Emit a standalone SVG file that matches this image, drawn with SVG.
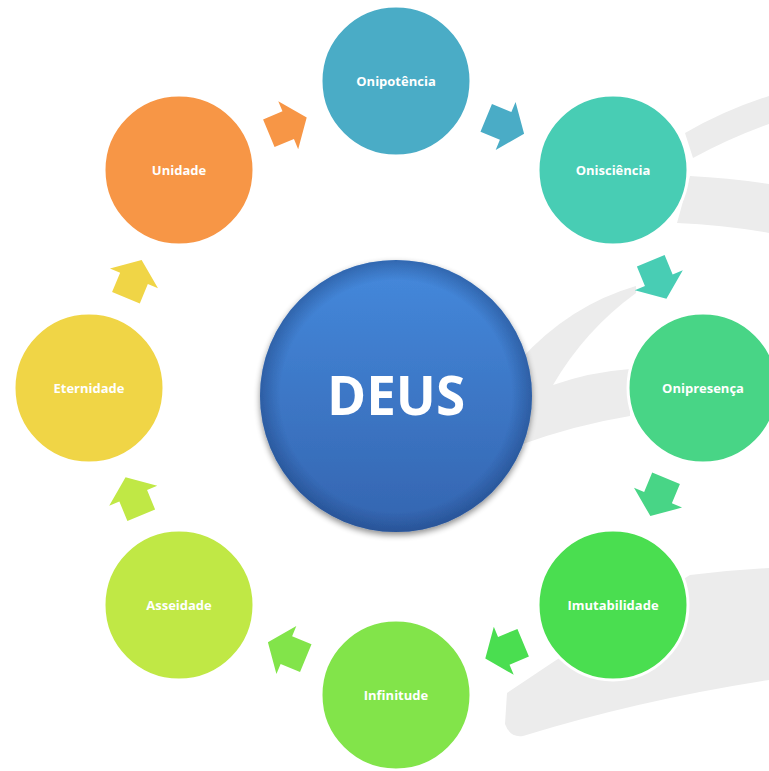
<svg xmlns="http://www.w3.org/2000/svg" width="769" height="771" viewBox="0 0 769 771">
<defs>
<style>
.lbl{font-family:"Open Sans","Noto Sans",sans-serif;font-weight:bold;font-size:13px;fill:#ffffff;text-anchor:middle}
.node{stroke:#ffffff;stroke-width:3}
.bg{fill:#ececec}
</style>
<linearGradient id="gDeus" x1="0" y1="0" x2="0" y2="1">
<stop offset="0" stop-color="#4589dc"/>
<stop offset="1" stop-color="#3465b0"/>
</linearGradient>
<radialGradient id="gRim" cx="0.5" cy="0.5" r="0.5">
<stop offset="0.85" stop-color="#1a3f7a" stop-opacity="0"/>
<stop offset="1" stop-color="#1a3f7a" stop-opacity="0.45"/>
</radialGradient>
<filter id="shadow" x="-20%" y="-20%" width="140%" height="140%">
<feGaussianBlur in="SourceAlpha" stdDeviation="3"/>
<feOffset dx="0" dy="3" result="b"/>
<feComponentTransfer><feFuncA type="linear" slope="0.45"/></feComponentTransfer>
<feMerge><feMergeNode/><feMergeNode in="SourceGraphic"/></feMerge>
</filter>
<path id="arr" d="M-20,-15 L1,-15 L1,-26 L21,0 L1,26 L1,15 L-20,15 Z"/>
</defs>
<rect width="769" height="771" fill="#ffffff"/>
<g id="background">
<path class="bg" d="M685,133 Q725,110 769,96 L769,124 Q730,138 693,158 Z"/>
<path class="bg" d="M690,176 Q730,178 769,184 L769,233 Q725,225 677,223 Z"/>
<path class="bg" d="M636,286 Q570,305 520,360 L520,445 Q575,425 630,416 L630,369 Q590,372 553,385 Q585,330 636,293 Z"/>
<path class="bg" d="M507,693 Q600,630 690,575 Q730,570 769,568 L769,680 Q640,700 523,736 Q510,738 505,724 Z"/>
</g>
<g id="connectors">
<use href="#arr" fill="#f79646" transform="translate(287.3,125.6) rotate(-22.5)"/>
<use href="#arr" fill="#4aacc6" transform="translate(504.7,125.6) rotate(22.5)"/>
<use href="#arr" fill="#48cdb4" transform="translate(658.4,279.3) rotate(67.5)"/>
<use href="#arr" fill="#48d586" transform="translate(658.4,496.7) rotate(112.5)"/>
<use href="#arr" fill="#4ade50" transform="translate(504.7,650.4) rotate(157.5)"/>
<use href="#arr" fill="#82e44a" transform="translate(287.3,650.4) rotate(202.5)"/>
<use href="#arr" fill="#c0e845" transform="translate(133.6,496.7) rotate(247.5)"/>
<use href="#arr" fill="#f0d546" transform="translate(133.6,279.3) rotate(292.5)"/>
</g>
<g id="deus" filter="url(#shadow)">
<circle cx="396" cy="396" r="136" fill="url(#gDeus)"/>
<circle cx="396" cy="396" r="136" fill="url(#gRim)"/>
<text x="396" y="415" style="font-family:'Open Sans','Noto Sans',sans-serif;font-weight:bold;font-size:53px;fill:#ffffff;text-anchor:middle">DEUS</text>
</g>
<g id="onipotencia"><circle class="node" cx="396" cy="81" r="75" fill="#4aacc6"/><text class="lbl" x="396" y="86">Onipotência</text></g>
<g id="onisciencia"><circle class="node" cx="613" cy="170" r="75" fill="#48cdb4"/><text class="lbl" x="613" y="175">Onisciência</text></g>
<g id="onipresenca"><circle class="node" cx="703" cy="388" r="75" fill="#48d586"/><text class="lbl" x="703" y="393">Onipresença</text></g>
<g id="imutabilidade"><circle class="node" cx="613" cy="605" r="75" fill="#4ade50"/><text class="lbl" x="613" y="610">Imutabilidade</text></g>
<g id="infinitude"><circle class="node" cx="396" cy="695" r="75" fill="#82e44a"/><text class="lbl" x="396" y="700">Infinitude</text></g>
<g id="asseidade"><circle class="node" cx="179" cy="605" r="75" fill="#c0e845"/><text class="lbl" x="179" y="610">Asseidade</text></g>
<g id="eternidade"><circle class="node" cx="89" cy="388" r="75" fill="#f0d546"/><text class="lbl" x="89" y="393">Eternidade</text></g>
<g id="unidade"><circle class="node" cx="179" cy="170" r="75" fill="#f79646"/><text class="lbl" x="179" y="175">Unidade</text></g>
</svg>
